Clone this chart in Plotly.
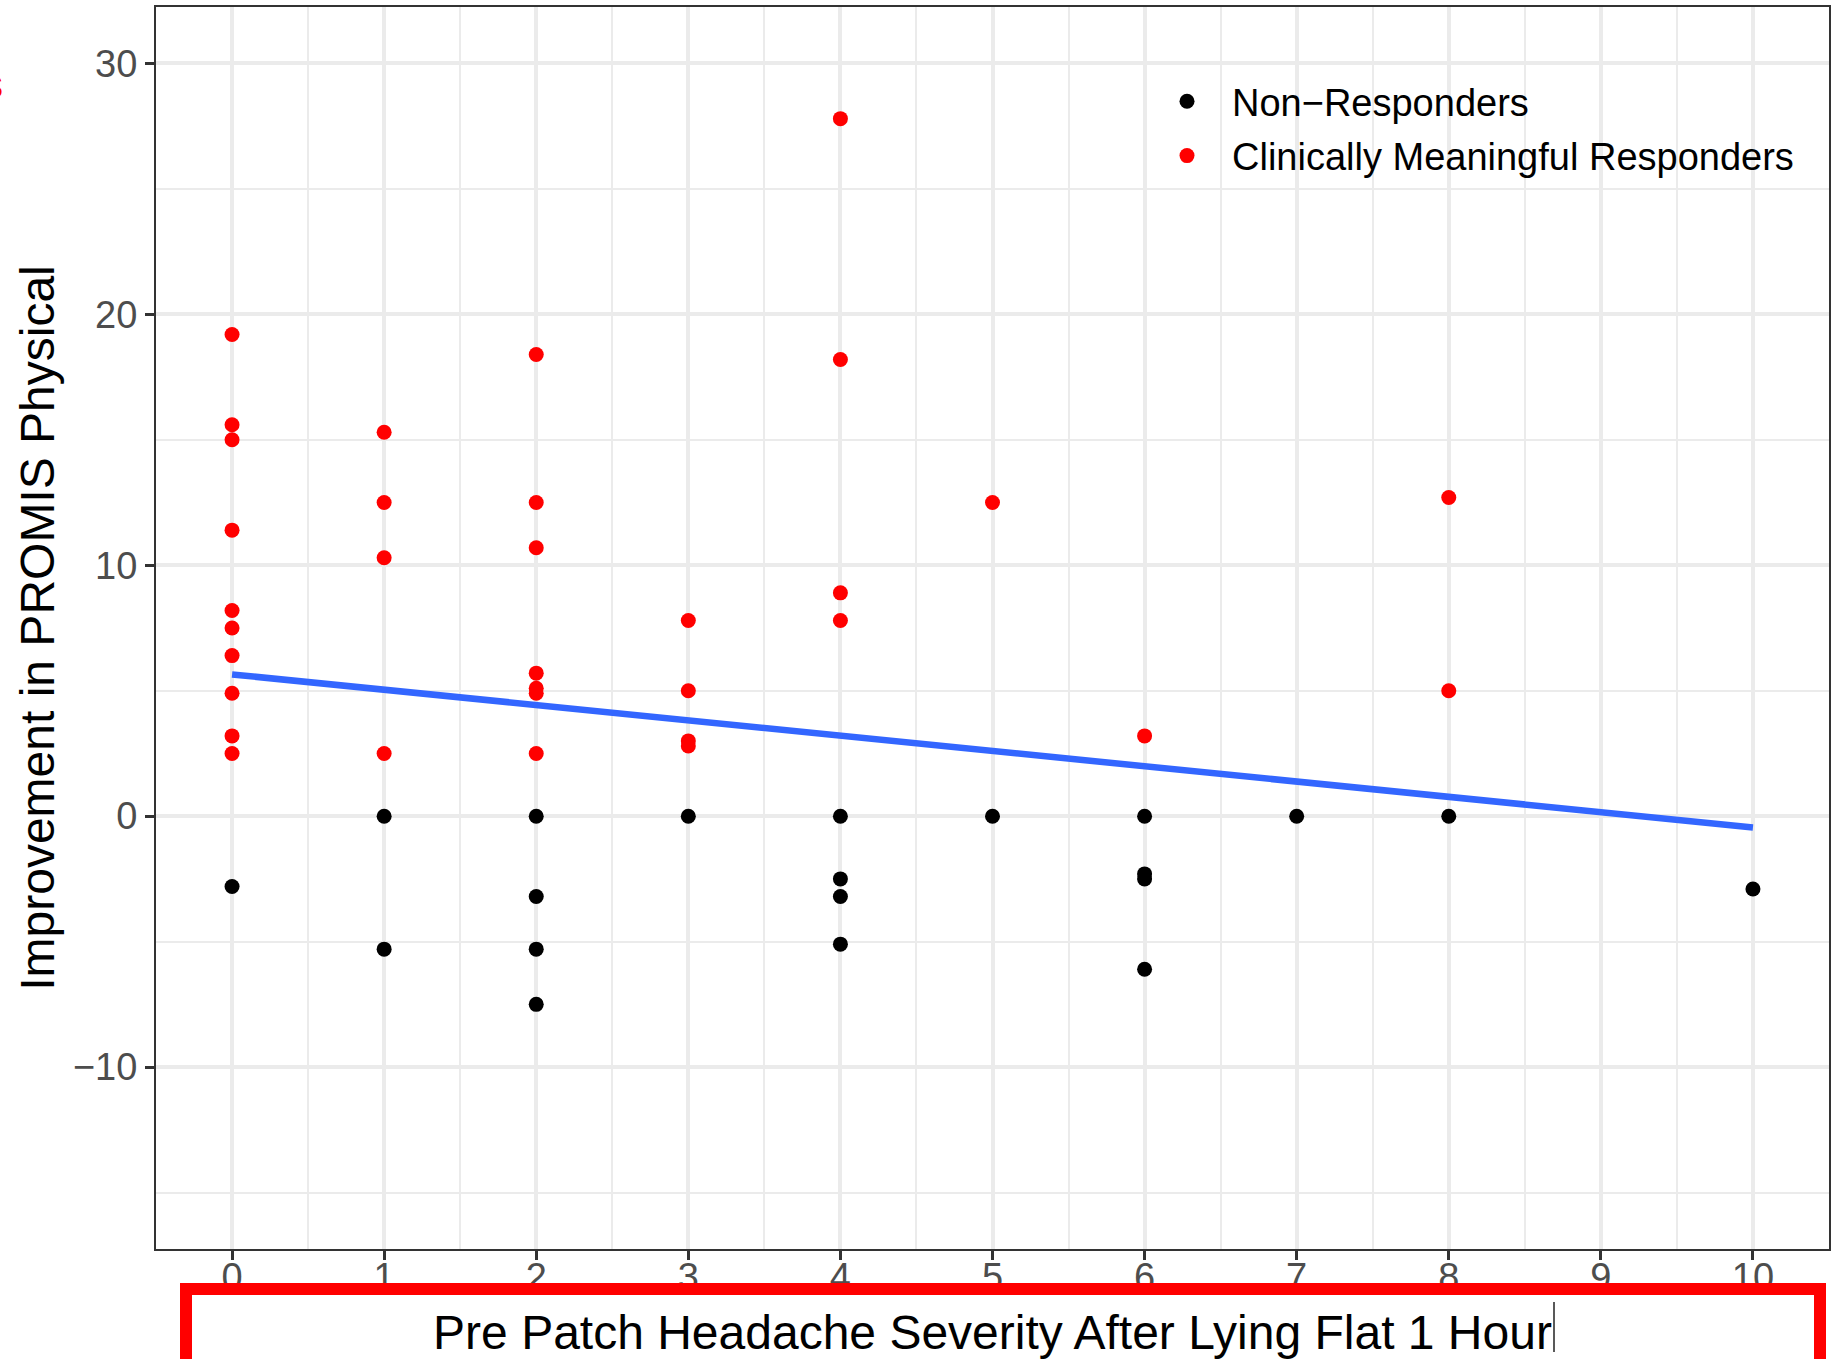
import plotly.graph_objects as go

# ---- data ----
resp_x = [0, 0, 0, 0, 0, 0, 0, 0, 0, 0,
          1, 1, 1, 1,
          2, 2, 2, 2, 2, 2, 2,
          3, 3, 3, 3,
          4, 4, 4, 4,
          5,
          6,
          8, 8]
resp_y = [19.2, 15.6, 15.0, 11.4, 8.2, 7.5, 6.4, 4.9, 3.2, 2.5,
          15.3, 12.5, 10.3, 2.5,
          18.4, 12.5, 10.7, 5.7, 5.1, 4.9, 2.5,
          7.8, 5.0, 3.0, 2.8,
          27.8, 18.2, 8.9, 7.8,
          12.5,
          3.2,
          12.7, 5.0]

non_x = [0,
         1, 1,
         2, 2, 2, 2,
         3,
         4, 4, 4, 4,
         5,
         6, 6, 6, 6,
         7,
         8,
         10]
non_y = [-2.8,
         0, -5.3,
         0, -3.2, -5.3, -7.5,
         0,
         0, -2.5, -3.2, -5.1,
         0,
         0, -2.3, -2.5, -6.1,
         0,
         0,
         -2.9]

fit_x = [0, 10]
fit_y = [5.65, -0.45]

x_ticks = [0, 1, 2, 3, 4, 5, 6, 7, 8, 9, 10]
y_ticks = [-10, 0, 10, 20, 30]

legend_names = ["Non\u2212Responders", "Clinically Meaningful Responders"]
x_title = "Pre Patch Headache Severity After Lying Flat 1 Hour"
y_title = "Improvement in PROMIS Physical"

# ---- figure ----
W, H = 1847, 1359
L, R, T, B = 156, 18, 7, 110
pw, ph = W - L - R, H - T - B


def px_x(p):
    return (p - L) / pw


def px_y(p):
    return (H - B - p) / ph


FONT = "Liberation Sans, Arial, sans-serif"

fig = go.Figure()
fig.add_trace(go.Scatter(
    x=non_x, y=non_y, mode="markers", name=legend_names[0],
    legendgroup="a",
    marker=dict(color="black", size=15, line=dict(width=0)),
))
fig.add_trace(go.Scatter(
    x=resp_x, y=resp_y, mode="markers", name=legend_names[1],
    legendgroup="b",
    marker=dict(color="#FF0000", size=15, line=dict(width=0)),
))
fig.add_trace(go.Scatter(
    x=fit_x, y=fit_y, mode="lines", showlegend=False,
    line=dict(color="#3366FF", width=6.5),
))

axis_common = dict(
    showline=True, mirror=True, linecolor="#333333", linewidth=2,
    ticks="outside", ticklen=9, tickwidth=2.5, tickcolor="#333333",
    tickfont=dict(family=FONT, size=38, color="#4D4D4D"),
    showgrid=True, gridcolor="#EBEBEB", gridwidth=4,
    zeroline=False, automargin=False,
)

fig.update_layout(
    template="plotly_white",
    width=W, height=H,
    margin=dict(l=L, r=R, t=T, b=B, pad=0, autoexpand=False),
    paper_bgcolor="white", plot_bgcolor="white",
    font=dict(family=FONT, color="black"),
    xaxis=dict(
        range=[-0.5, 10.5], tickvals=x_ticks, ticktext=[str(v) for v in x_ticks],
        minor=dict(dtick=0.5, tick0=0.5, showgrid=True, gridcolor="#EBEBEB",
                   gridwidth=2, ticklen=0),
        title=dict(text=x_title, font=dict(family=FONT, size=48, color="black"),
                   standoff=22),
        ticklabelstandoff=-16,
        **axis_common,
    ),
    yaxis=dict(
        range=[-17.25, 32.25], tickvals=y_ticks,
        minor=dict(dtick=5, tick0=-15, showgrid=True, gridcolor="#EBEBEB",
                   gridwidth=2, ticklen=0),
        title=dict(text=y_title, font=dict(family=FONT, size=48, color="black"),
                   standoff=3),
        ticklabelstandoff=0,
        **axis_common,
    ),
    legend=dict(
        x=px_x(1142), xanchor="left",
        y=px_y(70), yanchor="top",
        bgcolor="rgba(0,0,0,0)", borderwidth=0,
        font=dict(family=FONT, size=38, color="black"),
        tracegroupgap=2, traceorder="grouped",
        itemwidth=80,
    ),
    shapes=[
        dict(type="rect", xref="paper", yref="paper", layer="above",
             x0=px_x(186), x1=px_x(1820), y0=px_y(1289), y1=px_y(1400),
             line=dict(color="#FF0000", width=12), fillcolor="rgba(0,0,0,0)"),
        dict(type="line", xref="paper", yref="paper", layer="above",
             x0=px_x(1554), x1=px_x(1554), y0=px_y(1302), y1=px_y(1352),
             line=dict(color="#222222", width=1.5)),
    ],
    annotations=[
        dict(text="s", xref="paper", yref="paper", x=px_x(5), y=px_y(84),
             xanchor="right", yanchor="middle", showarrow=False,
             font=dict(family=FONT, size=40, color="#FF0000")),
    ],
)

fig.write_html("out.html")
